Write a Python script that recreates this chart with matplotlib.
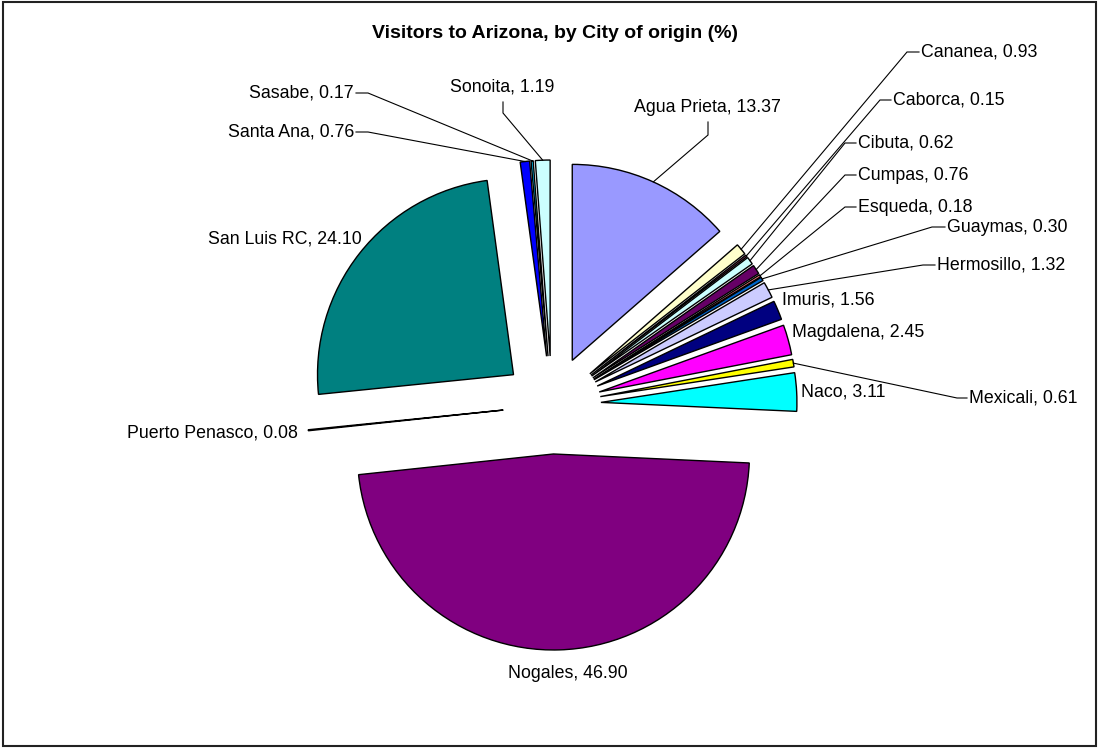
import matplotlib
matplotlib.use("Agg")
import matplotlib.pyplot as plt
import numpy as np
from matplotlib.patches import Rectangle

# ---------------- data ----------------
cities = ["Agua Prieta", "Cananea", "Caborca", "Cibuta", "Cumpas", "Esqueda",
          "Guaymas", "Hermosillo", "Imuris", "Magdalena", "Mexicali", "Naco",
          "Nogales", "Puerto Penasco", "San Luis RC", "Santa Ana", "Sasabe", "Sonoita"]
values = [13.37, 0.93, 0.15, 0.62, 0.76, 0.18,
          0.30, 1.32, 1.56, 2.45, 0.61, 3.11,
          46.90, 0.08, 24.10, 0.76, 0.17, 1.19]
colors = ["#9999FF", "#FFFFCC", "#993366", "#CCFFFF", "#660066", "#FF8080",
          "#0066CC", "#CCCCFF", "#000080", "#FF00FF", "#FFFF00", "#00FFFF",
          "#800080", "#800000", "#008080", "#0000FF", "#00CCFF", "#CCFFFF"]
title = "Visitors to Arizona, by City of origin (%)"

# ---------------- layout (pixel coords, y from top) ----------------
W, H = 1099, 748
CX, CY = 552, 405
R = 196
EXPL = 49

# label: (x, y, ha, elbow, stub_end)
label_layout = {
    "Agua Prieta":    (707, 107, "center", (708, 135), (708, 122)),
    "Cananea":        (921, 52, "left", (907, 52), None),
    "Caborca":        (893, 100, "left", (880, 100), None),
    "Cibuta":         (858, 143, "left", (845, 143), None),
    "Cumpas":         (858, 175, "left", (845, 175), None),
    "Esqueda":        (858, 207, "left", (845, 207), None),
    "Guaymas":        (947, 227, "left", (932, 227), None),
    "Hermosillo":     (937, 265, "left", (923, 265), None),
    "Imuris":         (782, 300, "left", None, None),
    "Magdalena":      (792, 332, "left", None, None),
    "Mexicali":       (969, 398, "left", (957, 398), None),
    "Naco":           (801, 392, "left", None, None),
    "Nogales":        (568, 674, "center", None, None),
    "Puerto Penasco": (298, 433, "right", None, None),
    "San Luis RC":    (362, 239, "right", None, None),
    "Santa Ana":      (354, 132, "right", (368, 132), None),
    "Sasabe":         (354, 93, "right", (368, 93), None),
    "Sonoita":        (502, 87, "center", (503, 113), (503, 102)),
}

plt.rcParams["font.family"] = ["Liberation Sans", "DejaVu Sans"]

fig = plt.figure(figsize=(W / 100, H / 100), dpi=100)
ax = fig.add_axes([0, 0, 1, 1])

wedges, _ = ax.pie(values, colors=colors, explode=[EXPL] * len(values),
                   startangle=90, counterclock=False, radius=R,
                   center=(CX, H - CY),
                   wedgeprops=dict(edgecolor="black", linewidth=1.0))
ax.set_xlim(0, W)
ax.set_ylim(0, H)
ax.set_aspect("auto")
ax.axis("off")


def P(x, y):
    return (x, H - y)


for w, name, val in zip(wedges, cities, values):
    x, y, ha, elbow, stub = label_layout[name]
    tx, ty = P(x, y)
    ax.text(tx, ty, f"{name}, {val:.2f}", ha=ha, va="center",
            fontsize=12.8, color="black")
    if elbow is not None:
        mid = np.deg2rad(0.5 * (w.theta1 + w.theta2))
        cx, cy = w.center
        ax_pt = (cx + w.r * np.cos(mid), cy + w.r * np.sin(mid))
        ex, ey = P(*elbow)
        if stub is None:
            sx = x - 2 if ha == "left" else x + 2
            sx, sy = P(sx, y)
        else:
            sx, sy = P(*stub)
        ax.plot([ax_pt[0], ex, sx], [ax_pt[1], ey, sy], color="black",
                lw=0.8, solid_joinstyle="miter")

tx, ty = P(555, 33)
ax.text(tx, ty, title, ha="center", va="center", fontsize=14,
        fontweight="bold", color="black")

fig.patches.append(Rectangle((3 / W, 2 / H), (W - 6) / W, (H - 4) / H,
                             transform=fig.transFigure, fill=False,
                             edgecolor="#222222", linewidth=1.5))

fig.savefig("out.png", dpi=100)
